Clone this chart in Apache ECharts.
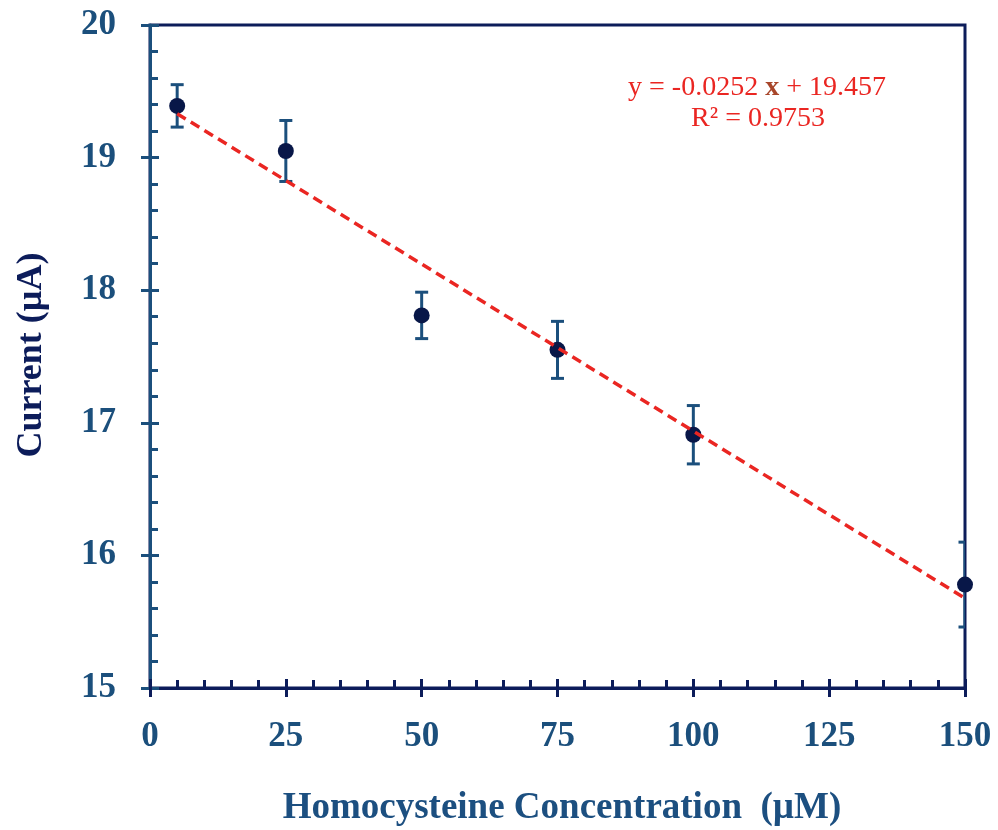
<!DOCTYPE html>
<html>
<head>
<meta charset="utf-8">
<script src="https://cdn.jsdelivr.net/npm/echarts@6/dist/echarts.min.js"></script>
<style>
  html, body { margin: 0; padding: 0; background: #fff; }
  #chart { width: 998px; height: 830px; }
</style>
</head>
<body>
<div id="chart"></div>
<script>
// Homocysteine concentration (µM) vs. measured current (µA)
const concentrations = [5, 25, 50, 75, 100, 150];
const currents = [19.39, 19.05, 17.81, 17.55, 16.91, 15.78];
const errors = [0.16, 0.23, 0.175, 0.215, 0.22, 0.32];

// Linear fit reported on the chart
const fitSlope = -0.0252;
const fitIntercept = 19.457;
const fitR2 = 0.9753;

const xTicks = { min: 0, max: 150, interval: 25 };
const yTicks = { min: 15, max: 20, interval: 1 };

const NAVY = '#0c1c5a';
const TEAL = '#1b4f7c';
const RED = '#ea2622';
const SERIF = '"Liberation Serif", "Times New Roman", serif';

const points = concentrations.map((x, i) => [x, currents[i]]);
const errData = concentrations.map((x, i) => [x, currents[i] - errors[i], currents[i] + errors[i]]);
const xStart = concentrations[0];
const xEnd = concentrations[concentrations.length - 1];
const fitLine = [xStart, xEnd].map(x => [x, fitSlope * x + fitIntercept]);

const chart = echarts.init(document.getElementById('chart'), null, { renderer: 'canvas' });

const baseX = { type: 'value', min: xTicks.min, max: xTicks.max, interval: xTicks.interval, splitLine: { show: false } };
const baseY = { type: 'value', min: yTicks.min, max: yTicks.max, interval: yTicks.interval, splitLine: { show: false } };

chart.setOption({
  animation: false,
  grid: {
    left: 150, top: 25, right: 33, bottom: 142,
    show: true, borderColor: NAVY, borderWidth: 3, backgroundColor: 'transparent'
  },
  xAxis: [
    Object.assign({}, baseX, {
      position: 'bottom',
      axisLine: { show: true, lineStyle: { color: NAVY, width: 3 } },
      axisTick: { show: true, inside: false, length: 9, lineStyle: { color: NAVY, width: 3 } },
      axisLabel: { show: true, margin: 31, color: TEAL, fontFamily: SERIF, fontWeight: 'bold', fontSize: 35 }
    }),
    Object.assign({}, baseX, {
      position: 'bottom',
      axisLine: { show: false },
      axisTick: { show: true, inside: true, length: 9, lineStyle: { color: NAVY, width: 3 } },
      minorTick: { show: true, splitNumber: 5, length: 8, lineStyle: { color: NAVY, width: 3 } },
      axisLabel: { show: false }
    })
  ],
  yAxis: [
    Object.assign({}, baseY, {
      position: 'left',
      axisLine: { show: true, lineStyle: { color: TEAL, width: 3 } },
      axisTick: { show: true, inside: false, length: 9, lineStyle: { color: TEAL, width: 3 } },
      axisLabel: { show: true, margin: 34, color: TEAL, fontFamily: SERIF, fontWeight: 'bold', fontSize: 35 }
    }),
    Object.assign({}, baseY, {
      position: 'left',
      axisLine: { show: false },
      axisTick: { show: true, inside: true, length: 9, lineStyle: { color: TEAL, width: 3 } },
      minorTick: { show: true, splitNumber: 5, length: 8, lineStyle: { color: TEAL, width: 3 } },
      axisLabel: { show: false }
    })
  ],
  series: [
    {
      type: 'custom',
      name: 'error',
      xAxisIndex: 0, yAxisIndex: 0,
      clip: true,
      data: errData,
      z: 2,
      renderItem: function (params, api) {
        const x = api.value(0);
        const lo = api.coord([x, api.value(1)]);
        const hi = api.coord([x, api.value(2)]);
        const half = 6.5;
        const style = { stroke: TEAL, lineWidth: 3, fill: null };
        return {
          type: 'group',
          children: [
            { type: 'line', shape: { x1: hi[0], y1: hi[1], x2: lo[0], y2: lo[1] }, style: style },
            { type: 'line', shape: { x1: hi[0] - half, y1: hi[1], x2: hi[0] + half, y2: hi[1] }, style: style },
            { type: 'line', shape: { x1: lo[0] - half, y1: lo[1], x2: lo[0] + half, y2: lo[1] }, style: style }
          ]
        };
      }
    },
    {
      type: 'scatter',
      name: 'current',
      xAxisIndex: 0, yAxisIndex: 0,
      clip: false,
      symbol: 'circle',
      symbolSize: 16,
      itemStyle: { color: '#081748', opacity: 1 },
      data: points,
      z: 3
    },
    {
      type: 'line',
      name: 'fit',
      xAxisIndex: 0, yAxisIndex: 0,
      showSymbol: false,
      symbol: 'none',
      lineStyle: { color: RED, width: 3.5, type: [10, 6] },
      data: fitLine,
      z: 4
    }
  ],
  graphic: [
    {
      type: 'text',
      x: 757, y: 88,
      style: {
        text: '{a|y = -0.0252 }{b|x}{a| + 19.457}',
        align: 'center', verticalAlign: 'middle',
        rich: {
          a: { fontFamily: SERIF, fontSize: 28, fill: RED },
          b: { fontFamily: SERIF, fontSize: 28, fontWeight: 'bold', fill: '#a8462a' }
        }
      }
    },
    {
      type: 'text',
      x: 758, y: 119,
      style: {
        text: 'R\u00b2 = ' + fitR2.toFixed(4),
        align: 'center', verticalAlign: 'middle',
        fontFamily: SERIF, fontSize: 28, fill: RED
      }
    },
    {
      type: 'text',
      x: 562, y: 808,
      style: {
        text: 'Homocysteine Concentration  (\u00b5M)',
        align: 'center', verticalAlign: 'middle',
        fontFamily: SERIF, fontSize: 37, fontWeight: 'bold', fill: '#1c4f80'
      }
    },
    {
      type: 'text',
      x: 32, y: 355,
      rotation: Math.PI / 2,
      style: {
        text: 'Current (\u00b5A)',
        align: 'center', verticalAlign: 'middle',
        fontFamily: SERIF, fontSize: 36, fontWeight: 'bold', fill: NAVY
      }
    }
  ]
});
</script>
</body>
</html>
